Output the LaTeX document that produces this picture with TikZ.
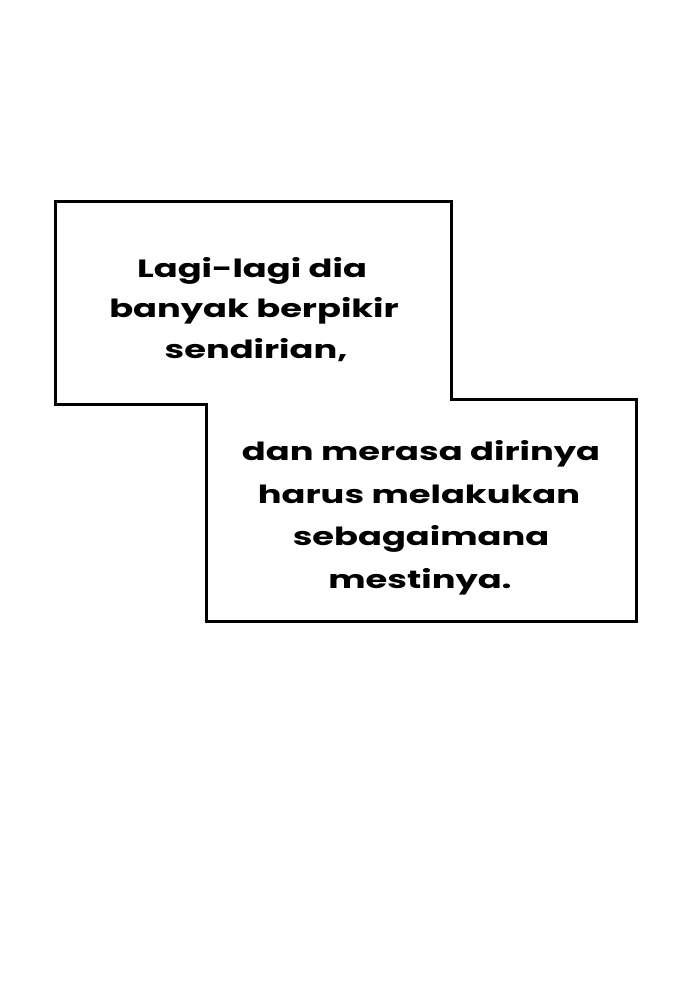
\documentclass[tikz,border=0pt]{standalone}
\usepackage{fontspec}
\setmainfont{Poppins}
\newfontfamily\comicfont{Poppins}[FakeStretch=1.41]
\begin{document}
\begin{tikzpicture}[x=1pt,y=-1pt,
  panel/.style={draw=black,line width=3pt,fill=white,line join=miter},
  caption/.style={anchor=base,inner sep=0pt,font=\comicfont\bfseries\fontsize{25}{25}\selectfont,text=black}]
\useasboundingbox (0,0) rectangle (690,1000);
\fill[white] (0,0) rectangle (690,1000);
\draw[panel] (55,201.5) -- (451.5,201.5) -- (451.5,399) -- (636,399) -- (636,621)
  -- (206,621) -- (206,404) -- (55,404) -- cycle;
\node[caption] (a1) at (252,277) {Lagi-lagi dia};
\node[caption] (a2) at (254,317) {banyak berpikir};
\node[caption] (a3) at (256,358) {sendirian,};
\node[caption] (b1) at (421,460) {dan merasa dirinya};
\node[caption] (b2) at (419,503) {harus melakukan};
\node[caption] (b3) at (421,545) {sebagaimana};
\node[caption] (b4) at (420,588) {mestinya.};
\end{tikzpicture}
\end{document}
